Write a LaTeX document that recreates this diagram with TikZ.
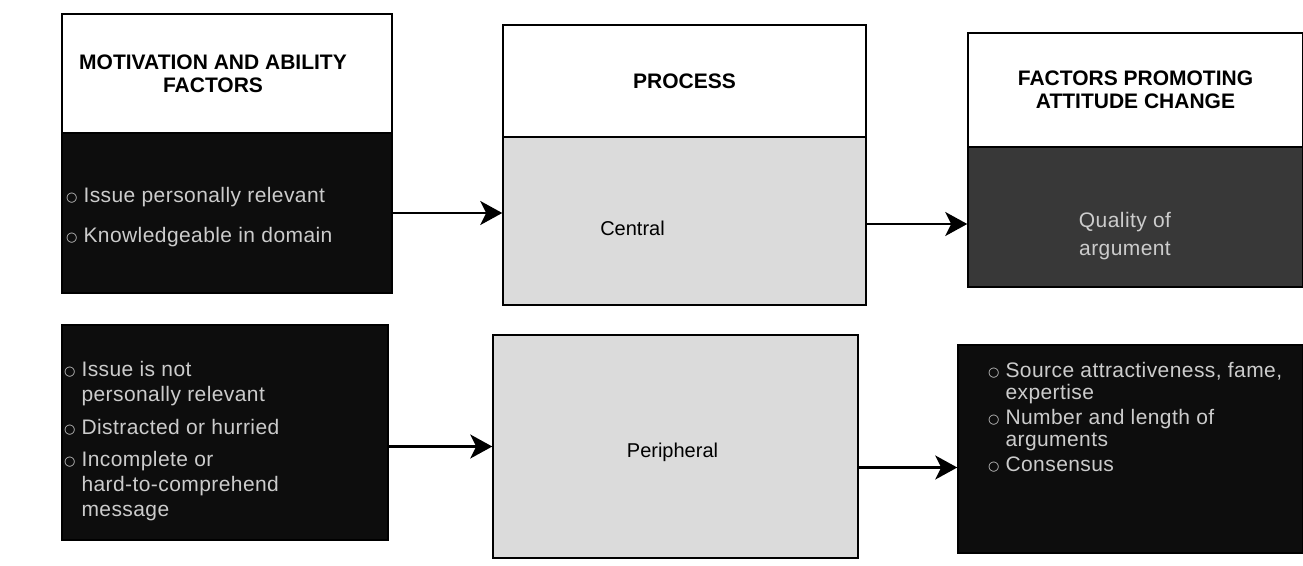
\documentclass[tikz,border=0pt]{standalone}
\usepackage{fontspec}
\setmainfont{Liberation Sans}
\newfontfamily\dejavu{DejaVu Sans}
\newfontfamily\spaced[LetterSpace=2]{Liberation Sans}
\usetikzlibrary{calc,arrows.meta}
\newcommand{\bul}{\raisebox{1pt}{\dejavu\fontsize{13}{13}\selectfont ○}}
\begin{document}
\begin{tikzpicture}[x=1pt,y=-1pt,
  box/.style={draw=black,line width=1.5pt,inner sep=0pt,anchor=center},
  headbox/.style={box,fill=white,font=\fontsize{21}{23}\selectfont\bfseries,align=center},
  headtext/.style={font=\fontsize{21}{23}\selectfont\bfseries,align=center,inner sep=0pt},
  darkbox/.style={box,fill=black!95},
  greybox/.style={box,fill=black!14},
  midbox/.style={box,fill=black!78},
  bodytext/.style={text=black!20,font=\spaced\fontsize{21}{23}\selectfont,inner sep=0pt,align=left},
  labeltext/.style={text=black,font=\fontsize{20}{22}\selectfont,inner sep=0pt},
  arr/.style={line width=2.5pt,-{Stealth[length=22pt,width=24pt,inset=6pt]}}
]
\fill[white] (0,0) rectangle (1303,565);
\useasboundingbox (0,0) rectangle (1303,565);

% left column
\node[headbox,minimum width=330pt,minimum height=119pt] (l1h) at (227,73.5) {};
\node[headtext] (l1ht) at ($(l1h.center)+(-14,0)$) {MOTIVATION AND ABILITY\\FACTORS};
\node[darkbox,minimum width=330pt,minimum height=160pt] (l1b) at (227,213) {};
\node[darkbox,minimum width=326pt,minimum height=215pt] (l2) at (225,432.5) {};

% middle column
\node[headbox,minimum width=363pt,minimum height=112pt] (m1h) at (684.5,81) {PROCESS};
\node[greybox,minimum width=363pt,minimum height=168pt] (m1b) at (684.5,221) {};
\node[greybox,minimum width=365pt,minimum height=223pt] (m2) at (675.5,446.5) {};

% right column
\node[headbox,minimum width=335pt,minimum height=114pt] (r1h) at (1135.5,90) {FACTORS PROMOTING\\ATTITUDE CHANGE};
\node[midbox,minimum width=335pt,minimum height=140pt] (r1b) at (1135.5,217) {};
\node[darkbox,minimum width=345pt,minimum height=208pt] (r2) at (1130.5,449) {};

% texts
\node[bodytext,anchor=west] (l1t) at (66,218) {%
\begin{tabular}{@{}l@{\hspace{6pt}}l@{}}
\bul & Issue personally relevant\\[17pt]
\bul & Knowledgeable in domain
\end{tabular}};
\node[bodytext,anchor=west] (l2t) at (64,442) {%
\begin{tabular}{@{}l@{\hspace{6pt}}l@{}}
\bul & Issue is not\\[2pt]
 & personally relevant\\[10pt]
\bul & Distracted or hurried\\[9pt]
\bul & Incomplete or\\[2pt]
 & hard-to-comprehend\\[2pt]
 & message
\end{tabular}};
\node[labeltext] (ctext) at ($(m1b.center)+(-52,7)$) {Central};
\node[labeltext] (ptext) at ($(m2.center)+(-3,6)$) {Peripheral};
\node[bodytext,align=center,font=\spaced\fontsize{21}{28}\selectfont] (r1t) at (1125,236) {Quality of\\argument};
\node[bodytext,anchor=west] (r2t) at (988,420) {%
\begin{tabular}{@{}l@{\hspace{6pt}}l@{}}
\bul & Source attractiveness, fame,\\[-1pt]
 & expertise\\[2pt]
\bul & Number and length of\\[-1pt]
 & arguments\\[2pt]
\bul & Consensus
\end{tabular}};

% arrows
\coordinate (a3s) at ($(m1b.east)+(0,3)$);
\coordinate (a4s) at ($(m2.east)+(0,21)$);
\draw[arr] (l1b.east) -- (l1b.east -| m1b.west);
\draw[arr] (m2.west -| l2.east) -- (m2.west);
\draw[arr] (a3s) -- (a3s -| r1b.west);
\draw[arr] (a4s) -- (a4s -| r2.west);
\end{tikzpicture}
\end{document}
